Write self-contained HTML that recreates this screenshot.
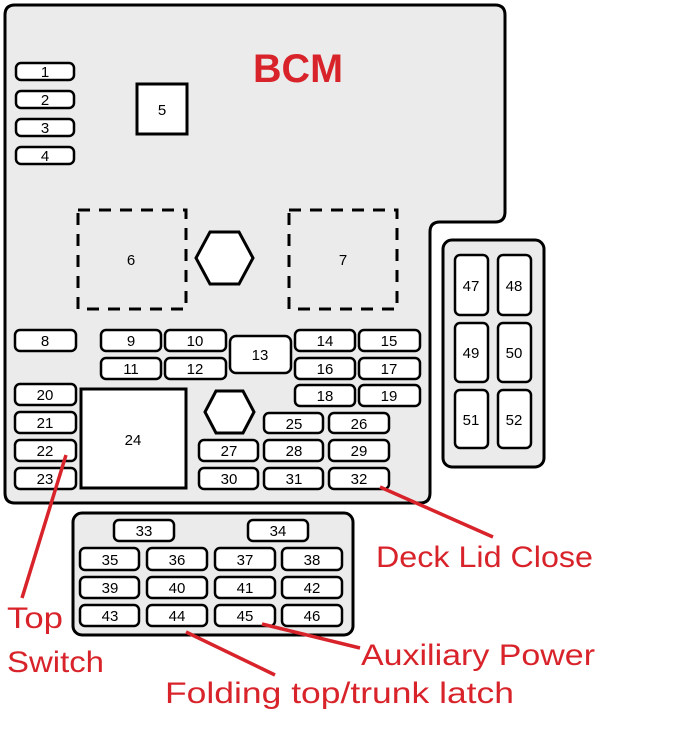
<!DOCTYPE html>
<html><head><meta charset="utf-8"><style>
html,body{margin:0;padding:0;background:#fff;}
svg{display:block;}
.f{fill:#fff;stroke:#000;stroke-width:2.5;}
.t{font-family:"Liberation Sans",sans-serif;font-size:15px;text-anchor:middle;fill:#000;}
.r{font-family:"Liberation Sans",sans-serif;font-size:30px;fill:#d8232a;}
.l{stroke:#d8232a;stroke-width:3.5;fill:none;}
</style></head><body>
<svg width="681" height="743" viewBox="0 0 681 743" xmlns="http://www.w3.org/2000/svg">
<path d="M15,5 H495 Q505,5 505,15 V212 Q505,222 495,222 H440 Q430,222 430,232 V493 Q430,503 420,503 H15 Q5,503 5,493 V15 Q5,5 15,5 Z" fill="#ebebeb" stroke="#000" stroke-width="3"/>
<rect x="443" y="240" width="101" height="227" rx="9" fill="#ebebeb" stroke="#000" stroke-width="3"/>
<rect x="73" y="513" width="280" height="122" rx="9" fill="#ebebeb" stroke="#000" stroke-width="3"/>
<text x="298" y="82" class="r" style="font-size:40px;font-weight:bold" text-anchor="middle" textLength="90" lengthAdjust="spacingAndGlyphs">BCM</text>
<g id="fuses">
<rect class="f" x="16" y="63" width="58" height="17" rx="5"/><text class="t" x="45" y="77">1</text>
<rect class="f" x="16" y="91" width="58" height="17" rx="5"/><text class="t" x="45" y="105">2</text>
<rect class="f" x="16" y="119" width="58" height="17" rx="5"/><text class="t" x="45" y="133">3</text>
<rect class="f" x="16" y="147" width="58" height="17" rx="5"/><text class="t" x="45" y="161">4</text>
<rect class="f" x="137" y="84" width="50" height="50" style="stroke-width:3"/><text class="t" x="162" y="115">5</text>
<rect x="78" y="210" width="108" height="99" fill="none" stroke="#000" stroke-width="3" stroke-dasharray="12,9"/><text class="t" x="131" y="265">6</text>
<rect x="289" y="210" width="108" height="99" fill="none" stroke="#000" stroke-width="3" stroke-dasharray="12,9"/><text class="t" x="343" y="265">7</text>
<polygon class="f" points="196,258 210,232 239,232 253,258 239,284 210,284" style="stroke-width:3"/>
<polygon class="f" points="205,412 216,391 243,391 254,412 243,433 216,433" style="stroke-width:3"/>
<rect class="f" x="15" y="330" width="61" height="21" rx="5"/><text class="t" x="45" y="346">8</text>
<rect class="f" x="101" y="330" width="60" height="21" rx="5"/><text class="t" x="131" y="346">9</text>
<rect class="f" x="165" y="330" width="61" height="21" rx="5"/><text class="t" x="195" y="346">10</text>
<rect class="f" x="101" y="358" width="60" height="21" rx="5"/><text class="t" x="131" y="374">11</text>
<rect class="f" x="165" y="358" width="61" height="21" rx="5"/><text class="t" x="195" y="374">12</text>
<rect class="f" x="230" y="336" width="61" height="37" rx="6"/><text class="t" x="260" y="360">13</text>
<rect class="f" x="295" y="330" width="60" height="21" rx="5"/><text class="t" x="325" y="346">14</text>
<rect class="f" x="359" y="330" width="61" height="21" rx="5"/><text class="t" x="389" y="346">15</text>
<rect class="f" x="295" y="358" width="60" height="21" rx="5"/><text class="t" x="325" y="374">16</text>
<rect class="f" x="359" y="358" width="61" height="21" rx="5"/><text class="t" x="389" y="374">17</text>
<rect class="f" x="295" y="385" width="60" height="21" rx="5"/><text class="t" x="325" y="401">18</text>
<rect class="f" x="359" y="385" width="61" height="21" rx="5"/><text class="t" x="389" y="401">19</text>
<rect class="f" x="15" y="384" width="61" height="21" rx="5"/><text class="t" x="45" y="400">20</text>
<rect class="f" x="15" y="412" width="61" height="21" rx="5"/><text class="t" x="45" y="428">21</text>
<rect class="f" x="15" y="440" width="61" height="21" rx="5"/><text class="t" x="45" y="456">22</text>
<rect class="f" x="15" y="468" width="61" height="21" rx="5"/><text class="t" x="45" y="484">23</text>
<rect class="f" x="81" y="389" width="105" height="99" style="stroke-width:3"/><text class="t" x="133" y="445">24</text>
<rect class="f" x="264" y="413" width="59" height="20" rx="5"/><text class="t" x="294" y="429">25</text>
<rect class="f" x="329" y="413" width="60" height="20" rx="5"/><text class="t" x="359" y="429">26</text>
<rect class="f" x="199" y="440" width="59" height="21" rx="5"/><text class="t" x="229" y="456">27</text>
<rect class="f" x="264" y="440" width="59" height="21" rx="5"/><text class="t" x="294" y="456">28</text>
<rect class="f" x="329" y="440" width="60" height="21" rx="5"/><text class="t" x="359" y="456">29</text>
<rect class="f" x="199" y="468" width="59" height="21" rx="5"/><text class="t" x="229" y="484">30</text>
<rect class="f" x="264" y="468" width="59" height="21" rx="5"/><text class="t" x="294" y="484">31</text>
<rect class="f" x="329" y="468" width="60" height="21" rx="5"/><text class="t" x="359" y="484">32</text>
<rect class="f" x="114" y="520" width="60" height="21" rx="5"/><text class="t" x="144" y="536">33</text>
<rect class="f" x="248" y="520" width="60" height="21" rx="5"/><text class="t" x="278" y="536">34</text>
<rect class="f" x="80" y="548" width="59" height="22" rx="5"/><text class="t" x="110" y="565">35</text>
<rect class="f" x="147" y="548" width="60" height="22" rx="5"/><text class="t" x="177" y="565">36</text>
<rect class="f" x="215" y="548" width="60" height="22" rx="5"/><text class="t" x="245" y="565">37</text>
<rect class="f" x="282" y="548" width="60" height="22" rx="5"/><text class="t" x="312" y="565">38</text>
<rect class="f" x="80" y="577" width="59" height="21" rx="5"/><text class="t" x="110" y="593">39</text>
<rect class="f" x="147" y="577" width="60" height="21" rx="5"/><text class="t" x="177" y="593">40</text>
<rect class="f" x="215" y="577" width="60" height="21" rx="5"/><text class="t" x="245" y="593">41</text>
<rect class="f" x="282" y="577" width="60" height="21" rx="5"/><text class="t" x="312" y="593">42</text>
<rect class="f" x="80" y="605" width="59" height="21" rx="5"/><text class="t" x="110" y="621">43</text>
<rect class="f" x="147" y="605" width="60" height="21" rx="5"/><text class="t" x="177" y="621">44</text>
<rect class="f" x="215" y="605" width="60" height="21" rx="5"/><text class="t" x="245" y="621">45</text>
<rect class="f" x="282" y="605" width="60" height="21" rx="5"/><text class="t" x="312" y="621">46</text>
<rect class="f" x="455" y="255" width="33" height="60" rx="5"/><text class="t" x="471" y="291">47</text>
<rect class="f" x="498" y="255" width="33" height="60" rx="5"/><text class="t" x="514" y="291">48</text>
<rect class="f" x="455" y="323" width="33" height="59" rx="5"/><text class="t" x="471" y="358">49</text>
<rect class="f" x="498" y="323" width="33" height="59" rx="5"/><text class="t" x="514" y="358">50</text>
<rect class="f" x="455" y="390" width="33" height="58" rx="5"/><text class="t" x="471" y="425">51</text>
<rect class="f" x="498" y="390" width="33" height="58" rx="5"/><text class="t" x="514" y="425">52</text>
</g>
<line class="l" x1="380" y1="487" x2="493" y2="537"/>
<line class="l" x1="66" y1="455" x2="22" y2="598"/>
<line class="l" x1="262" y1="624" x2="360" y2="648"/>
<line class="l" x1="186" y1="632" x2="275" y2="675"/>
<text class="r" x="376" y="567" textLength="217" lengthAdjust="spacingAndGlyphs">Deck Lid Close</text>
<text class="r" x="7" y="628" textLength="56" lengthAdjust="spacingAndGlyphs">Top</text>
<text class="r" x="7" y="672" textLength="97" lengthAdjust="spacingAndGlyphs">Switch</text>
<text class="r" x="361" y="665" textLength="234" lengthAdjust="spacingAndGlyphs">Auxiliary Power</text>
<text class="r" x="165" y="703" textLength="349" lengthAdjust="spacingAndGlyphs">Folding top/trunk latch</text>
</svg>
</body></html>
